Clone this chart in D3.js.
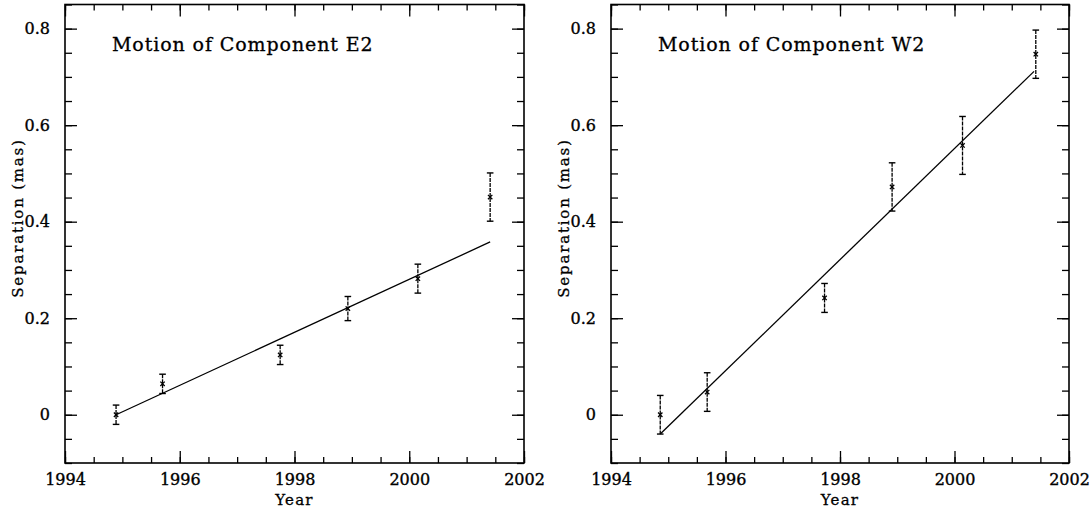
<!DOCTYPE html>
<html>
<head>
<meta charset="utf-8">
<script src="https://cdn.jsdelivr.net/npm/d3@7"></script>
<style>
  html, body { margin: 0; padding: 0; background: #fff; }
  svg { display: block; }
  text { font-family: "DejaVu Serif", serif; fill: #000; }
</style>
</head>
<body>
<svg id="chart" width="1091" height="510"></svg>
<script>
// ---- Data ----
const yearsE2 = [1994.89, 1995.70, 1997.75, 1998.93, 2000.15, 2001.41];
const sepE2   = [0.000, 0.064, 0.124, 0.220, 0.282, 0.451];
const errE2   = [0.020, 0.020, 0.020, 0.025, 0.030, 0.050];
const fitYearsE2 = [1994.89, 2001.41];
const fitSepE2   = [0.000, 0.358];

const yearsW2 = [1994.86, 1995.68, 1997.73, 1998.91, 2000.14, 2001.42];
const sepW2   = [0.000, 0.047, 0.242, 0.472, 0.558, 0.747];
const errW2   = [0.040, 0.040, 0.030, 0.050, 0.060, 0.050];
const fitYearsW2 = [1994.86, 2001.39];
const fitSepW2   = [-0.040, 0.7115];

const xTickLabels = [1994, 1996, 1998, 2000, 2002];
const yTickLabels = [0, 0.2, 0.4, 0.6, 0.8];
const titles = ["Motion of Component E2", "Motion of Component W2"];
const xLabel = "Year";
const yLabel = "Separation (mas)";

// ---- Layout ----
const svg = d3.select("#chart");
const panels = [
  {x0: 65, x1: 524, ylab: 18, years: yearsE2, sep: sepE2, err: errE2, fx: fitYearsE2, fy: fitSepE2, title: titles[0]},
  {x0: 611, x1: 1069, ylab: 564, years: yearsW2, sep: sepW2, err: errW2, fx: fitYearsW2, fy: fitSepW2, title: titles[1]}
];
const yTop = 4.5, yBot = 463;
const minorX = d3.range(1994, 2002.01, 0.5);
const minorY = d3.range(-0.1, 0.851, 0.05).map(v => +v.toFixed(2));
const fmtY = v => v === 0 ? "0" : d3.format(".1f")(v);

panels.forEach(p => {
  const x = d3.scaleLinear().domain([1994, 2002]).range([p.x0, p.x1]);
  const y = d3.scaleLinear().domain([-0.1, 0.85]).range([yBot, yTop]);
  const g = svg.append("g");

  // minor ticks
  const minorAx = [
    d3.axisBottom(x).tickValues(minorX).tickSizeInner(-6).tickSizeOuter(0).tickFormat(""),
    d3.axisTop(x).tickValues(minorX).tickSizeInner(-6).tickSizeOuter(0).tickFormat(""),
    d3.axisLeft(y).tickValues(minorY).tickSizeInner(-7).tickSizeOuter(0).tickFormat(""),
    d3.axisRight(y).tickValues(minorY).tickSizeInner(-7).tickSizeOuter(0).tickFormat("")
  ];
  const pos = [
    `translate(0,${yBot})`, `translate(0,${yTop})`,
    `translate(${p.x0},0)`, `translate(${p.x1},0)`
  ];
  minorAx.forEach((ax, i) => {
    const a = g.append("g").attr("transform", pos[i]).call(ax);
    a.select(".domain").remove();
    a.selectAll("line").attr("stroke", "#000").attr("stroke-width", 1.3);
  });

  // major ticks with labels
  const bx = g.append("g").attr("transform", pos[0])
    .call(d3.axisBottom(x).tickValues(xTickLabels).tickSizeInner(-12).tickSizeOuter(0).tickPadding(11).tickFormat(d3.format("d")));
  const tx = g.append("g").attr("transform", pos[1])
    .call(d3.axisTop(x).tickValues(xTickLabels).tickSizeInner(-12).tickSizeOuter(0).tickFormat(""));
  const ly = g.append("g").attr("transform", pos[2])
    .call(d3.axisLeft(y).tickValues(yTickLabels).tickSizeInner(-12).tickSizeOuter(0).tickPadding(15).tickFormat(fmtY));
  const ry = g.append("g").attr("transform", pos[3])
    .call(d3.axisRight(y).tickValues(yTickLabels).tickSizeInner(-12).tickSizeOuter(0).tickFormat(""));
  [bx, tx, ly, ry].forEach(a => {
    a.select(".domain").remove();
    a.selectAll("line").attr("stroke", "#000").attr("stroke-width", 1.3);
    a.selectAll("text").attr("font-family", "DejaVu Serif").attr("font-size", 16)
      .attr("fill", "#000").attr("stroke", "#000").attr("stroke-width", 0.35);
  });

  // frame
  g.append("rect").attr("x", p.x0).attr("y", yTop)
    .attr("width", p.x1 - p.x0).attr("height", yBot - yTop)
    .attr("fill", "none").attr("stroke", "#000").attr("stroke-width", 1.6);

  // fit line
  g.append("line")
    .attr("x1", x(p.fx[0])).attr("y1", y(p.fy[0]))
    .attr("x2", x(p.fx[1])).attr("y2", y(p.fy[1]))
    .attr("stroke", "#000").attr("stroke-width", 1.3);

  // error bars and points
  const pts = p.years.map((yr, i) => ({yr, s: p.sep[i], e: p.err[i]}));
  const eb = g.selectAll(".eb").data(pts).enter().append("g");
  eb.append("line")
    .attr("x1", d => x(d.yr)).attr("x2", d => x(d.yr))
    .attr("y1", d => y(d.s + d.e)).attr("y2", d => y(d.s - d.e))
    .attr("stroke", "#000").attr("stroke-width", 1.3).attr("stroke-dasharray", "4,1");
  [1, -1].forEach(sg => {
    eb.append("line")
      .attr("x1", d => x(d.yr) - 3.3).attr("x2", d => x(d.yr) + 3.3)
      .attr("y1", d => y(d.s + sg * d.e)).attr("y2", d => y(d.s + sg * d.e))
      .attr("stroke", "#000").attr("stroke-width", 1.4);
  });
  // cross markers
  eb.append("path")
    .attr("d", d => {
      const cx = x(d.yr), cy = y(d.s), r = 2.2;
      return `M${cx - r},${cy - r}L${cx + r},${cy + r}M${cx - r},${cy + r}L${cx + r},${cy - r}`;
    })
    .attr("stroke", "#000").attr("stroke-width", 1.3);

  // title
  g.append("text").attr("x", p.x0 + 47).attr("y", 51)
    .attr("font-size", 19).attr("letter-spacing", 0.9)
    .attr("stroke", "#000").attr("stroke-width", 0.3)
    .text(p.title);

  // axis labels
  g.append("text").attr("x", (p.x0 + p.x1) / 2).attr("y", 505)
    .attr("text-anchor", "middle").attr("font-size", 15).attr("letter-spacing", 1.2)
    .attr("stroke", "#000").attr("stroke-width", 0.3)
    .text(xLabel);
  g.append("text")
    .attr("transform", `translate(${p.ylab},218) rotate(-90)`)
    .attr("text-anchor", "middle").attr("dy", "0.35em")
    .attr("font-size", 15).attr("letter-spacing", 1.8)
    .attr("stroke", "#000").attr("stroke-width", 0.3)
    .text(yLabel);
});
</script>
</body>
</html>
